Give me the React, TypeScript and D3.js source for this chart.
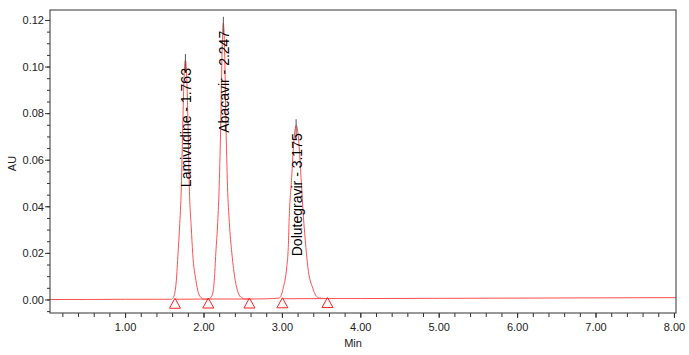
import React from "react";
import * as d3 from "d3";

// ---- data ----
const peakNames = ["Lamivudine", "Abacavir", "Dolutegravir"];
const peakTimes = [1.763, 2.247, 3.175];
const peakHeights = [0.103, 0.119, 0.075];

const triangleTimes = [1.63, 2.055, 2.58, 3.0, 3.575];
const triangleAU = [0.0003, 0.0004, 0.0004, 0.0005, 0.0006];
const baselineSegments = [[0, 1], [1, 2], [3, 4]];

const signalTime = [
  0.036, 0.5, 1.0, 1.4, 1.583, 1.608, 1.628, 1.647, 1.669, 1.688, 1.711, 1.731, 1.743, 1.763,
  1.783, 1.795, 1.813, 1.838, 1.856, 1.898, 1.928, 1.963, 2.003,
  2.057, 2.087, 2.112, 2.131, 2.151, 2.175, 2.194, 2.215, 2.231, 2.247,
  2.263, 2.279, 2.3, 2.323, 2.355, 2.399, 2.437, 2.477, 2.527,
  2.6, 2.8, 2.955, 2.985, 3.01, 3.056, 3.075, 3.087, 3.118, 3.145, 3.175,
  3.21, 3.238, 3.269, 3.3, 3.324, 3.388, 3.425, 3.475,
  3.6, 4.0, 5.0, 6.0, 7.0, 8.02,
];
const signalAU = [
  0.0002, 0.0002, 0.0003, 0.0003, 0.0003, 0.001, 0.0031, 0.0082, 0.0201, 0.0309, 0.0484, 0.0773, 0.0927, 0.103,
  0.0927, 0.0773, 0.0484, 0.0309, 0.0201, 0.0082, 0.0031, 0.001, 0.0003,
  0.0004, 0.001, 0.003, 0.0083, 0.0202, 0.0333, 0.0488, 0.0774, 0.1071, 0.119,
  0.1071, 0.0774, 0.0488, 0.0333, 0.0202, 0.0083, 0.003, 0.001, 0.0004,
  0.0004, 0.0005, 0.0008, 0.002, 0.005, 0.0143, 0.0225, 0.0353, 0.0525, 0.0675, 0.075,
  0.0675, 0.0525, 0.0353, 0.0225, 0.0143, 0.005, 0.002, 0.0008,
  0.0006, 0.0006, 0.0007, 0.0008, 0.0009, 0.001,
];

const xTickValues = [1, 2, 3, 4, 5, 6, 7, 8];
const yTickValues = [0, 0.02, 0.04, 0.06, 0.08, 0.1, 0.12];
const xDomain = [0.036, 8.02];
const yDomain = [-0.0056, 0.1245];

const W = 689;
const H = 355;
const M = { left: 50, right: 13, top: 10, bottom: 42 };
const FONT = "'Liberation Sans', Arial, sans-serif";

export default function App() {
  const x = d3.scaleLinear().domain(xDomain).range([M.left, W - M.right]);
  const y = d3.scaleLinear().domain(yDomain).range([H - M.bottom, M.top]);

  const pts: [number, number][] = signalTime.map((t, i) => [t, signalAU[i]]);
  const line = d3
    .line<[number, number]>()
    .x((d) => x(d[0]))
    .y((d) => y(d[1]))
    .curve(d3.curveMonotoneX);

  const x0 = M.left;
  const x1 = W - M.right;
  const y0 = H - M.bottom;
  const y1 = M.top;

  const xMinor = d3.range(0.2, 8.01, 0.2).filter((t) => t >= xDomain[0]);
  const yMinor = d3.range(-0.005, 0.1201, 0.005);

  return (
    <svg
      width={W}
      height={H}
      style={{ position: "absolute", left: 0, top: 0, background: "#fff" }}
      fontFamily={FONT}
    >
      <rect x={0} y={0} width={W} height={H} fill="#fff" />
      {/* integration baselines */}
      {baselineSegments.map(([a, b], i) => (
        <line
          key={"bl" + i}
          x1={x(triangleTimes[a])}
          y1={y(triangleAU[a])}
          x2={x(triangleTimes[b])}
          y2={y(triangleAU[b])}
          stroke="#ff4d4d"
          strokeWidth={1}
        />
      ))}
      {/* signal */}
      <path d={line(pts) || ""} fill="none" stroke="#ff5050" strokeWidth={1} />
      {/* triangles */}
      {triangleTimes.map((t, i) => {
        const cx = x(t);
        const cy = y(triangleAU[i]) - 1;
        return (
          <path
            key={"tri" + i}
            d={`M${cx},${cy} L${cx + 5.5},${cy + 10} L${cx - 5.5},${cy + 10} Z`}
            fill="none"
            stroke="#ff2020"
            strokeWidth={1}
          />
        );
      })}
      {/* apex markers and labels */}
      {peakTimes.map((t, i) => {
        const px = x(t);
        const py = y(peakHeights[i]);
        return (
          <g key={"pk" + i}>
            <line x1={px} x2={px} y1={py - 6} y2={py + 12} stroke="#555" strokeWidth={1} />
            <text
              transform={`translate(${px + 5.5},${py + 8}) rotate(-90)`}
              textAnchor="end"
              fontSize={14}
              fill="#000"
            >
              {`${peakNames[i]} - ${t.toFixed(3)}`}
            </text>
          </g>
        );
      })}
      {/* frame */}
      <rect x={x0} y={y1} width={x1 - x0} height={y0 - y1} fill="none" stroke="#333" strokeWidth={1} />
      {/* y ticks */}
      {yMinor.map((v, i) => (
        <line key={"ym" + i} x1={x0 - 3} x2={x0} y1={y(v)} y2={y(v)} stroke="#333" />
      ))}
      {yTickValues.map((v, i) => (
        <g key={"yt" + i}>
          <line x1={x0 - 5} x2={x0} y1={y(v)} y2={y(v)} stroke="#333" />
          <text x={x0 - 6} y={y(v)} dy="0.35em" textAnchor="end" fontSize={11} fill="#222">
            {v.toFixed(2)}
          </text>
        </g>
      ))}
      {/* x ticks */}
      {xMinor.map((t, i) => (
        <line key={"xm" + i} x1={x(t)} x2={x(t)} y1={y0} y2={y0 + 4} stroke="#333" />
      ))}
      {xTickValues.map((t, i) => (
        <g key={"xt" + i}>
          <line x1={x(t)} x2={x(t)} y1={y0} y2={y0 + 5} stroke="#333" />
          <text x={x(t)} y={y0 + 18} textAnchor="middle" fontSize={11} fill="#222">
            {t.toFixed(2)}
          </text>
        </g>
      ))}
      {/* axis titles */}
      <text x={353} y={347} textAnchor="middle" fontSize={11} fill="#222">
        Min
      </text>
      <text
        transform={`translate(16,${(y0 + y1) / 2 + 2}) rotate(-90)`}
        textAnchor="middle"
        fontSize={11}
        fill="#222"
      >
        AU
      </text>
    </svg>
  );
}
